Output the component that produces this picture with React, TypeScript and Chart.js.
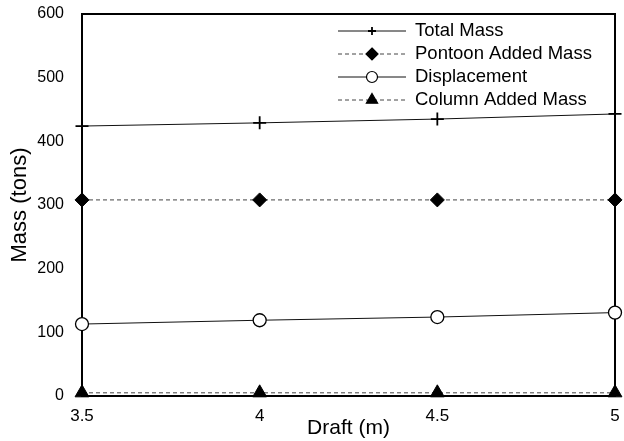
import React, { useEffect, useRef } from "react";
import { Chart, registerables } from "chart.js";

Chart.register(...registerables);

const drafts = [3.5, 4, 4.5, 5];
const totalMass = [424, 429, 435, 443];
const pontoonAddedMass = [308, 308, 308, 308];
const displacement = [113, 119, 124, 131];
const columnAddedMass = [5, 5, 5, 5];

const seriesNames = ["Total Mass", "Pontoon Added Mass", "Displacement", "Column Added Mass"];
const xTicks = [3.5, 4, 4.5, 5];

const FONT = "'Liberation Sans', Arial, sans-serif";

const legendMarkerRadius: Record<string, number> = {
  cross: 4,
  rectRot: 6,
  circle: 5.5,
  triangle: 6.5,
};

function drawMarker(ctx: CanvasRenderingContext2D, style: string, x: number, y: number, r: number, fill: string) {
  ctx.save();
  ctx.strokeStyle = "#000";
  ctx.fillStyle = fill;
  ctx.lineWidth = 1.2;
  ctx.setLineDash([]);
  ctx.beginPath();
  if (style === "cross") {
    ctx.moveTo(x - r, y);
    ctx.lineTo(x + r, y);
    ctx.moveTo(x, y - r);
    ctx.lineTo(x, y + r);
    ctx.lineWidth = 1.8;
    ctx.stroke();
  } else if (style === "rectRot") {
    ctx.moveTo(x, y - r);
    ctx.lineTo(x + r, y);
    ctx.lineTo(x, y + r);
    ctx.lineTo(x - r, y);
    ctx.closePath();
    ctx.fill();
    ctx.stroke();
  } else if (style === "circle") {
    ctx.arc(x, y, r, 0, Math.PI * 2);
    ctx.fill();
    ctx.stroke();
  } else if (style === "triangle") {
    ctx.moveTo(x, y - r);
    ctx.lineTo(x + r * 0.866, y + r * 0.5);
    ctx.lineTo(x - r * 0.866, y + r * 0.5);
    ctx.closePath();
    ctx.fill();
    ctx.stroke();
  }
  ctx.restore();
}

const frameAndLegend = {
  id: "frameAndLegend",
  beforeDatasetsDraw(chart: any) {
    const { ctx, chartArea: a } = chart;
    ctx.save();
    ctx.strokeStyle = "#000";
    ctx.lineWidth = 2;
    ctx.setLineDash([]);
    ctx.strokeRect(a.left, a.top, a.right - a.left, a.bottom - a.top);
    ctx.restore();
  },
  afterDraw(chart: any) {
    const { ctx, chartArea: a } = chart;
    ctx.save();
    const x0 = a.right - 277;
    const rowY0 = a.top + 17;
    const rowGap = 23;
    chart.data.datasets.forEach((ds: any, i: number) => {
      const y = rowY0 + i * rowGap;
      ctx.beginPath();
      ctx.strokeStyle = ds.borderColor;
      ctx.lineWidth = ds.borderWidth;
      ctx.setLineDash(ds.borderDash || []);
      ctx.moveTo(x0, y);
      ctx.lineTo(x0 + 68, y);
      ctx.stroke();
      ctx.setLineDash([]);
      drawMarker(ctx, ds.pointStyle, x0 + 34, y, legendMarkerRadius[ds.pointStyle], ds.pointBackgroundColor);
      ctx.fillStyle = "#000";
      ctx.font = `18.5px ${FONT}`;
      ctx.textBaseline = "middle";
      ctx.textAlign = "left";
      ctx.fillText(ds.label, x0 + 77, y);
    });
    ctx.restore();
  },
};

export default function App() {
  const ref = useRef<HTMLCanvasElement>(null);
  useEffect(() => {
    const mk = (vals: number[]) => vals.map((v, i) => ({ x: drafts[i], y: v }));
    const chart = new Chart(ref.current!, {
      type: "line",
      data: {
        datasets: [
          {
            label: seriesNames[0],
            data: mk(totalMass),
            borderColor: "#111",
            borderWidth: 1,
            pointStyle: "cross",
            pointRadius: 6.5,
            pointBorderWidth: 1.8,
            pointBorderColor: "#000",
            pointBackgroundColor: "#000",
            clip: false,
          },
          {
            label: seriesNames[1],
            data: mk(pontoonAddedMass),
            borderColor: "#444",
            borderWidth: 1,
            borderDash: [4, 3],
            pointStyle: "rectRot",
            pointRadius: 7,
            pointBorderWidth: 1,
            pointBorderColor: "#000",
            pointBackgroundColor: "#000",
            clip: false,
          },
          {
            label: seriesNames[2],
            data: mk(displacement),
            borderColor: "#111",
            borderWidth: 1,
            pointStyle: "circle",
            pointRadius: 6.5,
            pointBorderWidth: 1.3,
            pointBorderColor: "#000",
            pointBackgroundColor: "#fff",
            clip: false,
          },
          {
            label: seriesNames[3],
            data: mk(columnAddedMass),
            borderColor: "#444",
            borderWidth: 1,
            borderDash: [4, 3],
            pointStyle: "triangle",
            pointRadius: 8,
            pointBorderWidth: 1,
            pointBorderColor: "#000",
            pointBackgroundColor: "#000",
            clip: false,
          },
        ] as any,
      },
      options: {
        animation: false,
        responsive: false,
        layout: { padding: { top: 14, right: 7, left: 0, bottom: 0 } },
        plugins: { legend: { display: false }, tooltip: { enabled: false } },
        scales: {
          x: {
            type: "linear",
            min: 3.5,
            max: 5,
            afterBuildTicks: (s: any) => {
              s.ticks = xTicks.map((v) => ({ value: v }));
            },
            afterFit: (s: any) => {
              s.height = 45;
              s.paddingLeft = 0;
              s.paddingRight = 0;
            },
            grid: { display: false, drawTicks: false },
            border: { display: false },
            ticks: {
              padding: 10,
              maxRotation: 0,
              color: "#000",
              font: { family: FONT, size: 17 },
              callback: (v: any) => String(v),
            },
            title: {
              display: true,
              text: "Draft (m)",
              color: "#000",
              font: { family: FONT, size: 21 },
              padding: { top: 0, bottom: 0 },
            },
          },
          y: {
            min: 0,
            max: 600,
            afterFit: (s: any) => {
              s.width = 82;
              s.paddingTop = 0;
              s.paddingBottom = 0;
            },
            grid: { display: false, drawTicks: false },
            border: { display: false },
            ticks: {
              stepSize: 100,
              padding: 18,
              color: "#000",
              font: { family: FONT, size: 16 },
            },
            title: {
              display: true,
              text: "Mass (tons)",
              color: "#000",
              font: { family: FONT, size: 22 },
              padding: { top: 7, bottom: 0 },
            },
          },
        },
      },
      plugins: [frameAndLegend],
    });
    return () => chart.destroy();
  }, []);
  return (
    <div style={{ position: "fixed", left: 0, top: 0, width: 624, height: 441, background: "#fff" }}>
      <canvas ref={ref} width={624} height={441} style={{ display: "block" }} />
    </div>
  );
}
